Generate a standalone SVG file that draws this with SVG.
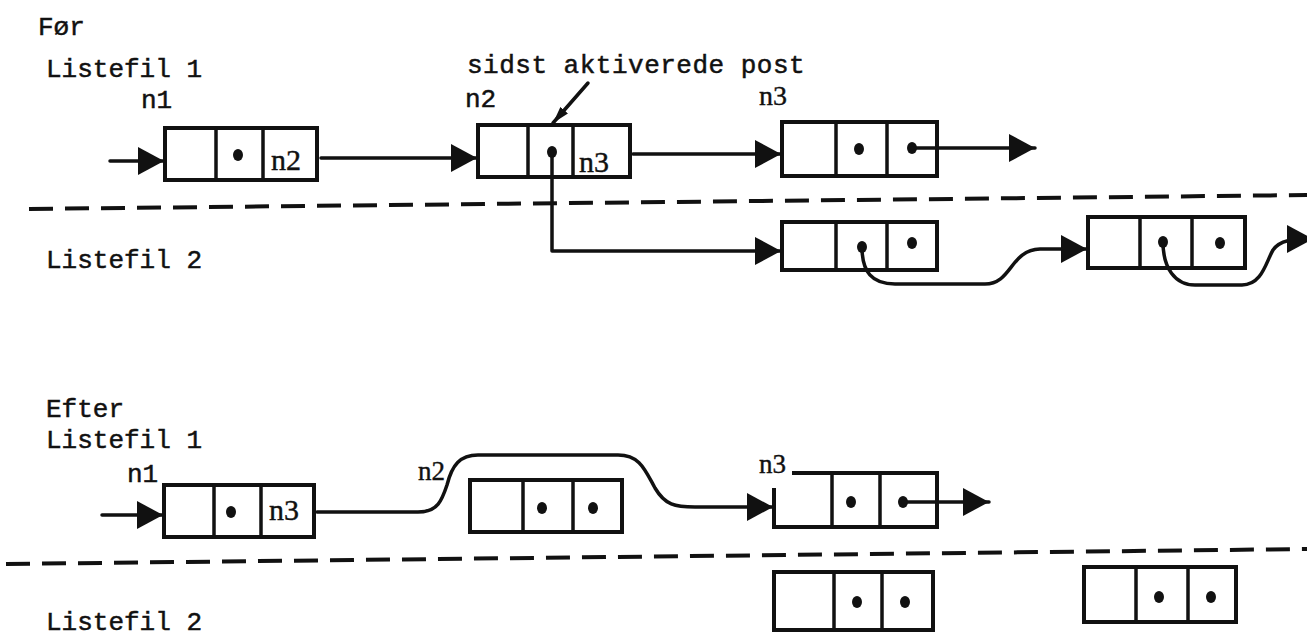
<svg xmlns="http://www.w3.org/2000/svg" width="1307" height="637" viewBox="0 0 1307 637">
<style>
.bx{fill:none;stroke:#111;stroke-width:4;stroke-linejoin:miter}
.dv{stroke:#111;stroke-width:3.5}
.dot{fill:#111}
.ln{fill:none;stroke:#111;stroke-width:3.5;stroke-linecap:round;stroke-linejoin:round}
.dash{fill:none;stroke:#111;stroke-width:4;stroke-dasharray:24 12}
.t{font-family:"Liberation Mono","DejaVu Sans Mono",monospace;font-size:26px;fill:#111;stroke:#111;stroke-width:0.5}
.s{font-family:"Liberation Serif","DejaVu Serif",serif;fill:#111;stroke:#111;stroke-width:0.4}
</style>
<defs>
<marker id="ah" markerUnits="userSpaceOnUse" markerWidth="27" markerHeight="28" refX="26" refY="14" orient="auto" viewBox="0 0 27 28">
<path d="M0,0 L26,14 L0,28 z" fill="#111"/>
</marker>
<marker id="ahs" markerUnits="userSpaceOnUse" markerWidth="18" markerHeight="10" refX="17" refY="5" orient="auto" viewBox="0 0 18 10">
<path d="M0,0 L17,5 L0,10 z" fill="#111"/>
</marker>
</defs>
<rect width="1307" height="637" fill="#fff"/>

<g id="labels">
<text class="t" x="38" y="35">Før</text>
<text class="t" x="46" y="77">Listefil 1</text>
<text class="t" x="141" y="108">n1</text>
<text class="t" x="467" y="73" letter-spacing="0.5">sidst aktiverede post</text>
<text class="t" x="465" y="107">n2</text>
<text class="s" x="759" y="105" font-size="28">n3</text>
<text class="t" x="46" y="268">Listefil 2</text>
<text class="t" x="46" y="417">Efter</text>
<text class="t" x="46" y="448">Listefil 1</text>
<text class="t" x="127" y="482">n1</text>
<text class="s" x="418" y="480" font-size="27">n2</text>
<text class="s" x="759" y="473" font-size="27">n3</text>
<text class="t" x="46" y="630">Listefil 2</text>
</g>

<g id="separators">
<path class="dash" d="M29,209 L1307,195"/>
<path class="dash" d="M6,564 L1307,549"/>
</g>

<g id="top-n1">
<rect class="bx" x="165" y="128" width="152" height="52"/>
<line class="dv" x1="216" y1="128" x2="216" y2="180"/>
<line class="dv" x1="263" y1="128" x2="263" y2="180"/>
<ellipse class="dot" cx="238" cy="155" rx="5" ry="6"/>
<text class="s" x="271" y="170" font-size="30">n2</text>
</g>

<g id="top-n2">
<rect class="bx" x="478" y="125" width="152" height="52"/>
<line class="dv" x1="528" y1="125" x2="528" y2="177"/>
<line class="dv" x1="573" y1="125" x2="573" y2="177"/>
<ellipse class="dot" cx="552" cy="152" rx="5" ry="6"/>
<text class="s" x="579" y="172" font-size="30">n3</text>
</g>

<g id="top-n3">
<rect class="bx" x="782" y="122" width="155" height="54"/>
<line class="dv" x1="836" y1="122" x2="836" y2="176"/>
<line class="dv" x1="887" y1="122" x2="887" y2="176"/>
<ellipse class="dot" cx="859" cy="149" rx="5" ry="6"/>
<ellipse class="dot" cx="912" cy="148" rx="5" ry="6"/>
</g>

<g id="top-l2-a">
<rect class="bx" x="782" y="222" width="155" height="48"/>
<line class="dv" x1="836" y1="222" x2="836" y2="270"/>
<line class="dv" x1="887" y1="222" x2="887" y2="270"/>
<ellipse class="dot" cx="862" cy="247" rx="5" ry="6"/>
<ellipse class="dot" cx="912" cy="243" rx="5" ry="6"/>
</g>

<g id="top-l2-b">
<rect class="bx" x="1088" y="217" width="157" height="51"/>
<line class="dv" x1="1140" y1="217" x2="1140" y2="268"/>
<line class="dv" x1="1192" y1="217" x2="1192" y2="268"/>
<ellipse class="dot" cx="1163" cy="242" rx="5" ry="6"/>
<ellipse class="dot" cx="1220" cy="243" rx="5" ry="6"/>
</g>

<g id="bot-n1">
<rect class="bx" x="164" y="485" width="150" height="52"/>
<line class="dv" x1="214" y1="485" x2="214" y2="537"/>
<line class="dv" x1="261" y1="485" x2="261" y2="537"/>
<ellipse class="dot" cx="231" cy="512" rx="5" ry="6"/>
<text class="s" x="269" y="520" font-size="30">n3</text>
</g>

<g id="bot-n2">
<rect class="bx" x="470" y="480" width="152" height="52"/>
<line class="dv" x1="523" y1="480" x2="523" y2="532"/>
<line class="dv" x1="573" y1="480" x2="573" y2="532"/>
<ellipse class="dot" cx="542" cy="508" rx="5" ry="6"/>
<ellipse class="dot" cx="593" cy="508" rx="5" ry="6"/>
</g>

<g id="bot-n3">
<path class="bx" d="M792,473 L937,473 L937,527 L774,527 L774,488"/>
<line class="dv" x1="832" y1="473" x2="832" y2="527"/>
<line class="dv" x1="880" y1="473" x2="880" y2="527"/>
<ellipse class="dot" cx="851" cy="502" rx="5" ry="6"/>
<ellipse class="dot" cx="903" cy="502" rx="5" ry="6"/>
</g>

<g id="bot-l2-a">
<rect class="bx" x="774" y="572" width="159" height="58"/>
<line class="dv" x1="834" y1="572" x2="834" y2="630"/>
<line class="dv" x1="882" y1="572" x2="882" y2="630"/>
<ellipse class="dot" cx="857" cy="602" rx="5" ry="6"/>
<ellipse class="dot" cx="905" cy="602" rx="5" ry="6"/>
</g>

<g id="bot-l2-b">
<rect class="bx" x="1084" y="567" width="152" height="55"/>
<line class="dv" x1="1136" y1="567" x2="1136" y2="622"/>
<line class="dv" x1="1188" y1="567" x2="1188" y2="622"/>
<ellipse class="dot" cx="1159" cy="597" rx="5" ry="6"/>
<ellipse class="dot" cx="1211" cy="597" rx="5" ry="6"/>
</g>

<g id="connectors">
<path class="ln" d="M110,161 L164,161" marker-end="url(#ah)"/>
<path class="ln" d="M321,158 L477,158" marker-end="url(#ah)"/>
<path class="ln" d="M633,154 L781,154" marker-end="url(#ah)"/>
<path class="ln" d="M912,148 L1035,148" marker-end="url(#ah)"/>
<path class="ln" d="M552,152 L552,251 L781,251" marker-end="url(#ah)"/>
<path class="ln" d="M862,247 C862,272 872,284 895,284 L985,284 C1012,284 1010,250 1040,249 L1087,249" marker-end="url(#ah)"/>
<path class="ln" d="M1163,242 C1163,268 1175,285 1195,285 L1242,285 C1262,285 1266,262 1273,250 C1280,240 1292,239 1313,239" marker-end="url(#ah)"/>
<path class="ln" d="M588,83 L553,123" marker-end="url(#ahs)"/>
<path class="ln" d="M102,515 L163,515" marker-end="url(#ah)"/>
<path class="ln" d="M317,512 L418,512 C438,512 442,500 447,485 C452,465 460,455 478,455 L618,455 C640,455 645,470 655,488 C665,505 675,507 695,507 L773,507" marker-end="url(#ah)"/>
<path class="ln" d="M903,502 L989,502" marker-end="url(#ah)"/>
</g>
</svg>
